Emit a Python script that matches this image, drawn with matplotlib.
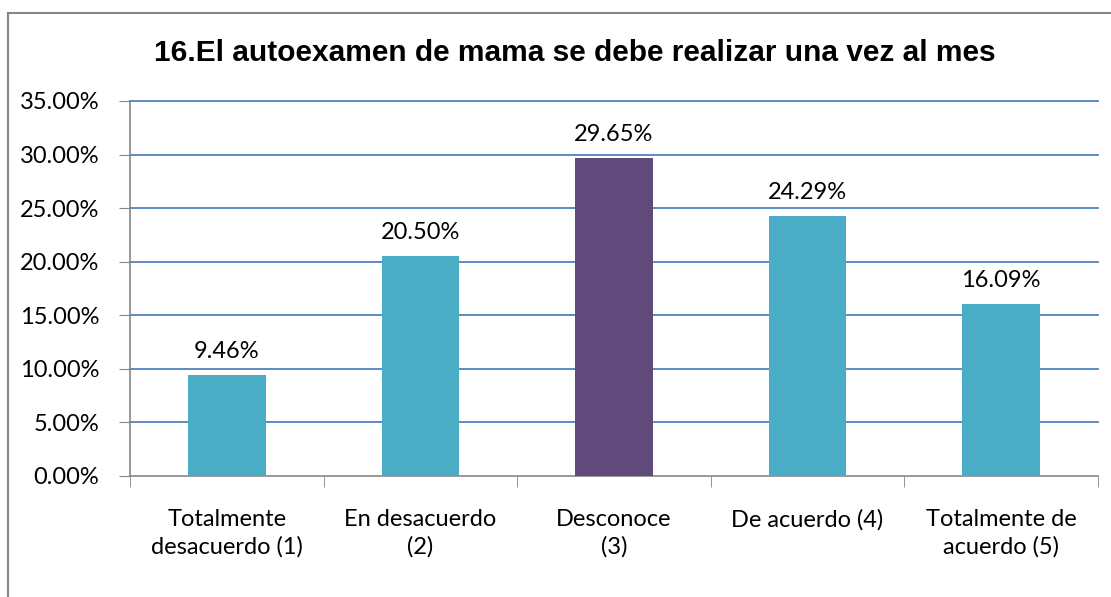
import numpy as np
import matplotlib.pyplot as plt
from matplotlib.patches import Rectangle

categories = ["Totalmente\ndesacuerdo (1)", "En desacuerdo\n(2)", "Desconoce\n(3)",
              "De acuerdo (4)", "Totalmente de\nacuerdo (5)"]
values = [9.46, 20.50, 29.65, 24.29, 16.09]
labels = ["9.46%", "20.50%", "29.65%", "24.29%", "16.09%"]
colors = ["#4BACC6", "#4BACC6", "#604A7B", "#4BACC6", "#4BACC6"]
yticks = [0, 5, 10, 15, 20, 25, 30, 35]

fig = plt.figure(figsize=(11.11, 5.97), dpi=100)
ax = fig.add_axes([130/1111, 1-476/597, 968/1111, 375/597])

# outer chart frame
fig.patches.append(Rectangle((8/1111, -0.05), 1.2, 1-13/597+0.05, transform=fig.transFigure,
                             fill=False, edgecolor="#868686", linewidth=1.5))

x = np.arange(len(values))
ax.bar(x, values, width=0.4, color=colors, zorder=3)
for xi, v, l in zip(x, values, labels):
    ax.text(xi, v + 1.2, l, ha="center", va="bottom", fontsize=17, family="Lato")

for t in yticks[1:]:
    ax.axhline(t, color="#4F81BD", linewidth=1.3, zorder=1, clip_on=False)

ax.set_xlim(-0.5, 4.5)
ax.set_ylim(0, 35)
ax.set_yticks(yticks)
ax.set_yticklabels(["%.2f%%" % t for t in yticks], fontsize=17, family="Lato")
ax.set_xticks(x)
ax.set_xticklabels(categories, fontsize=17, family="Lato", linespacing=1.3)
ax.set_xticks(np.arange(-0.5, 5, 1), minor=True)
ax.tick_params(axis="x", which="major", length=0, pad=24)
ax.tick_params(axis="x", which="minor", length=8, color="#868686")
ax.tick_params(axis="y", length=8, color="#868686", pad=14)
for s in ["top", "right"]:
    ax.spines[s].set_visible(False)
for s in ["left", "bottom"]:
    ax.spines[s].set_color("#868686")
    ax.spines[s].set_linewidth(1.2)

fig.text(0.517, 1-53/597, "16.El autoexamen de mama se debe realizar una vez al mes",
         ha="center", va="center", fontsize=21.5, fontweight="bold", family="Liberation Sans")

fig.savefig("out.png", dpi=100)
